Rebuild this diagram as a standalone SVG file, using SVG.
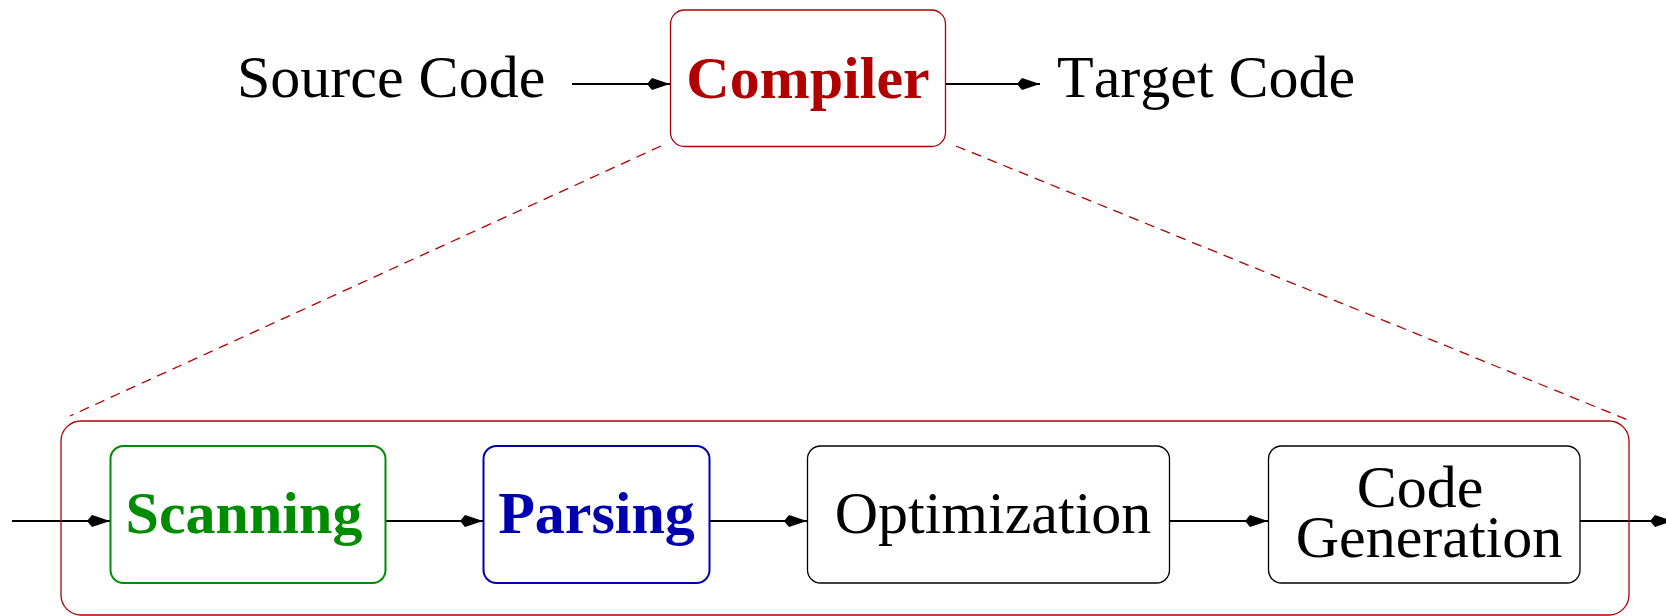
<svg xmlns="http://www.w3.org/2000/svg" width="1666" height="616" viewBox="0 0 1666 616">
<style>
text { font-family: "Liberation Serif", "Times New Roman", serif; font-size: 60px; font-kerning: none; }
.bold { font-weight: bold; }
.conn { stroke: #000; stroke-width: 2; fill: none; }
.dash { stroke: #b00000; stroke-width: 1.3; fill: none; stroke-dasharray: 10 7; }
</style>
<defs>
<marker id="kite" viewBox="0 -7 24 14" markerUnits="userSpaceOnUse" markerWidth="24" markerHeight="14" refX="23" refY="0" orient="auto">
<path d="M0,0 L5,-6 L23,0 L5,6 Z" fill="#000"/>
</marker>
</defs>
<rect width="1666" height="616" fill="#fff"/>

<g id="connectors">
<line class="conn" x1="572" y1="84" x2="670" y2="84" marker-end="url(#kite)"/>
<line class="conn" x1="945" y1="84" x2="1040" y2="84" marker-end="url(#kite)"/>
<line class="dash" x1="661" y1="146" x2="70" y2="416"/>
<line class="dash" x1="956" y1="146" x2="1628" y2="420"/>
<line class="conn" x1="12" y1="521" x2="110" y2="521" marker-end="url(#kite)"/>
<line class="conn" x1="386" y1="521" x2="483" y2="521" marker-end="url(#kite)"/>
<line class="conn" x1="709" y1="521" x2="807" y2="521" marker-end="url(#kite)"/>
<line class="conn" x1="1169" y1="521" x2="1268" y2="521" marker-end="url(#kite)"/>
<line class="conn" x1="1580" y1="521" x2="1673" y2="521" marker-end="url(#kite)"/>
</g>

<g id="source-code">
<text x="237" y="97">Source Code</text>
</g>

<g id="compiler">
<rect x="670.5" y="10" width="275" height="136.5" rx="14" fill="#fff" stroke="#b00000" stroke-width="1.3"/>
<text class="bold" x="808" y="98" text-anchor="middle" fill="#b00000">Compiler</text>
</g>

<g id="target-code">
<text x="1057" y="97">Target Code</text>
</g>

<g id="compiler-expanded">
<rect x="61" y="421" width="1568" height="194" rx="20" fill="none" stroke="#b00000" stroke-width="1.3"/>
</g>

<g id="scanning">
<rect x="110.5" y="446" width="275" height="137" rx="13" fill="#fff" stroke="#008c00" stroke-width="2"/>
<text class="bold" x="244" y="533" text-anchor="middle" fill="#008c00">Scanning</text>
</g>

<g id="parsing">
<rect x="483.5" y="446" width="226" height="137" rx="13" fill="#fff" stroke="#0000b0" stroke-width="2"/>
<text class="bold" x="596.5" y="533" text-anchor="middle" fill="#0000b0">Parsing</text>
</g>

<g id="optimization">
<rect x="807.5" y="446" width="362" height="137" rx="13" fill="#fff" stroke="#000" stroke-width="1.3"/>
<text x="993" y="533" text-anchor="middle">Optimization</text>
</g>

<g id="code-generation">
<rect x="1268.5" y="446" width="311.5" height="137" rx="13" fill="#fff" stroke="#000" stroke-width="1.3"/>
<text x="1420" y="507" text-anchor="middle">Code</text>
<text x="1429" y="557" text-anchor="middle">Generation</text>
</g>
</svg>
